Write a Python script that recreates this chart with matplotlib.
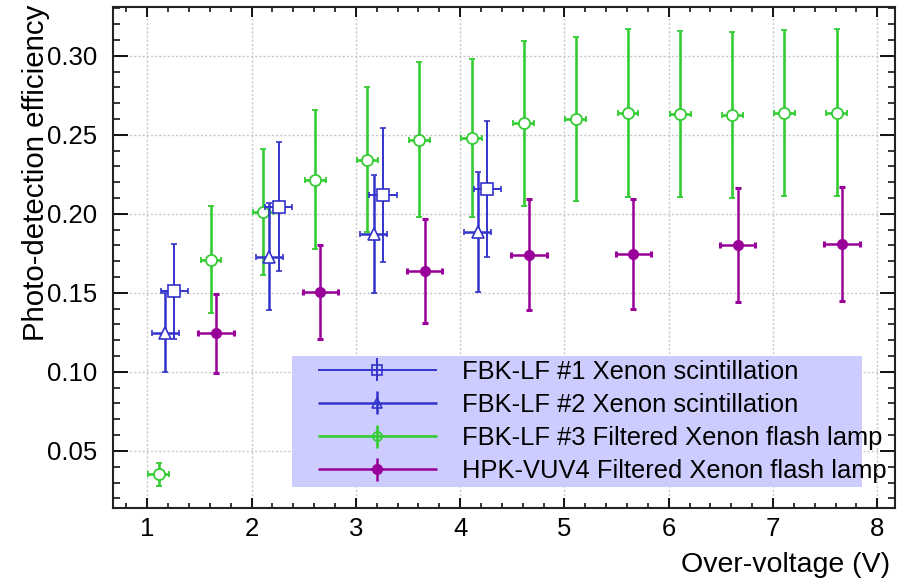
import matplotlib
matplotlib.use('Agg')
import matplotlib.pyplot as plt
from matplotlib.legend_handler import HandlerErrorbar
from matplotlib.lines import Line2D
from matplotlib.ticker import MultipleLocator

plt.rcParams['font.family'] = ['Liberation Sans', 'DejaVu Sans']

# ---------------- data ----------------
fbk1_x = [1.26, 2.26, 3.26, 4.26]
fbk1_y = [0.151, 0.2045, 0.212, 0.2157]
fbk1_yerr = [0.030, 0.041, 0.0425, 0.043]
fbk1_xerr = [0.13, 0.13, 0.13, 0.13]

fbk2_x = [1.17, 2.17, 3.17, 4.17]
fbk2_y = [0.1248, 0.1729, 0.1872, 0.1885]
fbk2_yerr = [0.025, 0.034, 0.0375, 0.0377]
fbk2_xerr = [0.13, 0.13, 0.13, 0.13]

fbk3_x = [1.11, 1.61, 2.11, 2.61, 3.11, 3.61, 4.11, 4.61, 5.11, 5.61, 6.11, 6.61, 7.11, 7.61]
fbk3_y = [0.0352, 0.171, 0.2011, 0.2216, 0.2342, 0.2469, 0.2481, 0.2572, 0.260, 0.2638,
          0.2629, 0.2625, 0.2638, 0.2638]
fbk3_yerr = [0.0074, 0.034, 0.040, 0.044, 0.046, 0.049, 0.050, 0.052, 0.052, 0.053,
             0.0525, 0.0525, 0.0526, 0.0528]
fbk3_xerr = [0.10] * 14

hpk_x = [1.66, 2.66, 3.66, 4.66, 5.66, 6.66, 7.66]
hpk_y = [0.1244, 0.1505, 0.1638, 0.1741, 0.1746, 0.1803, 0.1807]
hpk_yerr = [0.025, 0.030, 0.033, 0.035, 0.035, 0.036, 0.036]
hpk_xerr = [0.17] * 7

labels = ["FBK-LF #1 Xenon scintillation",
          "FBK-LF #2 Xenon scintillation",
          "FBK-LF #3 Filtered Xenon flash lamp",
          "HPK-VUV4 Filtered Xenon flash lamp"]

blue = '#3333cc'
green = '#33cc33'
purple = '#990099'

# ---------------- figure ----------------
fig = plt.figure(figsize=(9.09, 5.82), dpi=100)
ax = fig.add_axes([0.124, 0.1277, 0.8606, 0.8608])

ax.set_xlim(0.668, 8.17)
ax.set_ylim(0.0141, 0.331)

ax.grid(True, which='major', color='#c8c8c8', linestyle=(0, (1.5, 1.5)), linewidth=1.0)
ax.set_axisbelow(True)

h1 = ax.errorbar(fbk1_x, fbk1_y, yerr=fbk1_yerr, xerr=fbk1_xerr, fmt='s', color=blue,
                 mfc='white', mec=blue, ms=8, mew=1.2, elinewidth=1.4, capsize=2.0, capthick=2.2,
                 label=labels[0], zorder=3)
h2 = ax.errorbar(fbk2_x, fbk2_y, yerr=fbk2_yerr, xerr=fbk2_xerr, fmt='^', color=blue,
                 mfc='white', mec=blue, ms=8, mew=1.2, elinewidth=1.8, capsize=2.0, capthick=2.2,
                 label=labels[1], zorder=3)
h3 = ax.errorbar(fbk3_x, fbk3_y, yerr=fbk3_yerr, xerr=fbk3_xerr, fmt='o', color=green,
                 mfc='white', mec=green, ms=8, mew=1.3, elinewidth=1.9, capsize=2.5, capthick=2.5,
                 label=labels[2], zorder=2.5)
h4 = ax.errorbar(hpk_x, hpk_y, yerr=hpk_yerr, xerr=hpk_xerr, fmt='o', color=purple,
                 mfc=purple, mec=purple, ms=7, elinewidth=1.8, capsize=2.0, capthick=2.2,
                 label=labels[3], zorder=3)

# ticks
ax.xaxis.set_major_locator(MultipleLocator(1))
ax.xaxis.set_minor_locator(MultipleLocator(0.2))
ax.yaxis.set_major_locator(MultipleLocator(0.05))
ax.yaxis.set_minor_locator(MultipleLocator(0.01))
ax.yaxis.set_major_formatter(matplotlib.ticker.FormatStrFormatter('%.2f'))
ax.tick_params(axis='x', which='major', direction='in', length=7.2, width=1.3,
               top=True, bottom=True, labelsize=18.5, pad=7)
ax.tick_params(axis='x', which='minor', direction='in', length=3.6, width=1.1,
               top=True, bottom=True)
ax.tick_params(axis='y', which='major', direction='in', length=10.8, width=1.3,
               left=True, right=True, labelsize=18.5, pad=11)
ax.tick_params(axis='y', which='minor', direction='in', length=5.3, width=1.1,
               left=True, right=True)
for s in ax.spines.values():
    s.set_linewidth(1.5)
    s.set_color('#222222')

# axis titles (ROOT style, aligned to the ends)
fig.text(890 / 909, 1 - 565 / 582, "Over-voltage (V)", ha='right', va='center', fontsize=20.5)
fig.text(36 / 909, 1 - 5 / 582, "Photo-detection efficiency", rotation=90,
         ha='center', va='top', fontsize=21.2)


class NoCapHandler(HandlerErrorbar):
    def create_artists(self, legend, orig_handle, xdescent, ydescent, width, height,
                       fontsize, trans):
        arts = super().create_artists(legend, orig_handle, xdescent, ydescent, width,
                                      height, fontsize, trans)
        for a in arts:
            if isinstance(a, Line2D):
                m = a.get_marker()
                if m in ('|', '_'):
                    a.set_visible(False)
                elif a.get_markerfacecolor() in ('white', '#ffffff', (1.0, 1.0, 1.0, 1.0)):
                    a.set_markerfacecolor('none')
                    a.set_markersize(6.5)
        return arts


leg = ax.legend(handles=[h1, h2, h3, h4], labels=labels, loc='lower left',
                bbox_to_anchor=(0.229, 0.041, 0.729, 0.262), mode='expand',
                borderaxespad=0, borderpad=0.15, labelspacing=0.36, handlelength=6.4,
                handletextpad=0.1, numpoints=1, fontsize=18.4, frameon=True,
                fancybox=False, handler_map={h: NoCapHandler(xerr_size=2.33, yerr_size=0.45)
                                             for h in [h1, h2, h3, h4]})
leg.get_frame().set_facecolor('#ccccff')
leg.get_frame().set_edgecolor('none')
leg.get_frame().set_alpha(1.0)
leg.set_zorder(5)

fig.savefig('out.png', dpi=100)
